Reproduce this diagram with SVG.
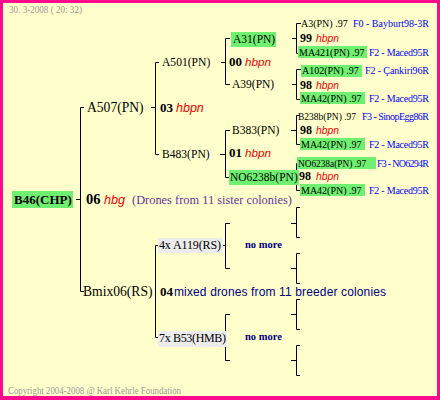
<svg xmlns="http://www.w3.org/2000/svg" width="440" height="400" viewBox="0 0 440 400">
<style>
.bg{fill:#ffffcc}
.frame{fill:#ff0a8c}
.gbox{fill:#70f070}
.xbox{fill:#ececec}
.ln{stroke:#000;stroke-width:1;fill:none}
.s{font-family:"Liberation Serif",serif;fill:#000}
.b{font-family:"Liberation Serif",serif;font-weight:bold;fill:#000}
.r{font-family:"Liberation Sans",sans-serif;font-style:italic;fill:#ee0000}
.bl{font-family:"Liberation Serif",serif;fill:#0000ff;font-size:10px}
.nm{font-family:"Liberation Serif",serif;font-weight:bold;fill:#000088;font-size:10.5px}
.g1{font-size:13.6px}
.g2{font-size:11.6px}
.g3{font-size:11.5px}
.g4{font-size:10px}
.gray{font-family:"Liberation Serif",serif;fill:#999999;font-size:10.5px}
</style>
<rect class="frame" x="0" y="0" width="440" height="400"/>
<rect class="bg" x="3" y="3" width="434" height="393"/>
<text class="gray" x="9" y="13" textLength="73" lengthAdjust="spacingAndGlyphs">30.  3-2008 ( 20: 32)</text>
<text class="gray" x="8" y="394" textLength="173" lengthAdjust="spacingAndGlyphs">Copyright 2004-2008 @ Karl Kehrle Foundation</text>

<g id="connectors">
<path class="ln" d="M76,199.5H80.5M84,107.5H80.5V291.5H84"/>
<path class="ln" d="M151,107.5H155.5M159,62.5H155.5V154.5H159"/>
<path class="ln" d="M159,245.5H155.5V337.5H159"/>
<path class="ln" d="M221,62.5H225.5M230,38.5H225.5V84.5H230"/>
<path class="ln" d="M220,154.5H225.5M230,130.5H225.5V177.5H230"/>
<path class="ln" d="M222,245.5H225.5M230,223.5H225.5V268.5H230"/>
<path class="ln" d="M230,314.5H225.5V360.5H230"/>
<path class="ln" d="M292,38.5H296.5M301,23.5H296.5V53.5H301"/>
<path class="ln" d="M292,84.5H296.5M301,69.5H296.5V99.5H301"/>
<path class="ln" d="M291,130.5H296.5M300,115.5H296.5V144.5H300"/>
<path class="ln" d="M300,163.5H296.5V190.5H300"/>
<path class="ln" d="M291,223.5H296.5M300,207.5H296.5V237.5H300"/>
<path class="ln" d="M291,268.5H296.5M300,253.5H296.5V283.5H300"/>
<path class="ln" d="M291,314.5H296.5M300,299.5H296.5V329.5H300"/>
<path class="ln" d="M291,360.5H296.5M300,345.5H296.5V375.5H300"/>
</g>

<g id="n-B46">
<rect class="gbox" x="12" y="191" width="61" height="17"/>
<text class="b" x="14" y="204" font-size="13">B46(CHP)</text>
<text class="b" x="86" y="204" font-size="14.5">06</text>
<text class="r" x="104" y="204" font-size="12.6">hbg</text>
<text x="132" y="204" font-family="Liberation Serif, serif" font-size="12.4" fill="#663399">(Drones from 11 sister colonies)</text>
</g>

<g id="n-A507">
<text class="s g1" x="87" y="112">A507(PN)</text>
<text class="b" x="160" y="112" font-size="13">03</text>
<text class="r" x="176" y="112" font-size="12.5">hbpn</text>
</g>

<g id="n-Bmix06">
<text class="s g1" x="83" y="296">Bmix06(RS)</text>
<text class="b" x="160" y="296" font-size="13">04</text>
<text x="174" y="296" font-family="Liberation Sans, sans-serif" font-size="12" fill="#000088" textLength="212">mixed drones from 11 breeder colonies</text>
</g>

<g id="n-A501">
<text class="s g2" x="162" y="66">A501(PN)</text>
<text class="b" x="229" y="66" font-size="13">00</text>
<text class="r" x="245" y="66" font-size="11.7">hbpn</text>
</g>

<g id="n-B483">
<text class="s g2" x="162" y="158">B483(PN)</text>
<text class="b" x="229" y="157" font-size="13">01</text>
<text class="r" x="245" y="157" font-size="11.7">hbpn</text>
</g>

<g id="n-A119">
<rect class="xbox" x="158" y="238" width="65" height="15"/>
<text class="s" x="159" y="249" font-size="12" textLength="62">4x A119(RS)</text>
<text class="nm" x="245" y="248">no more</text>
</g>

<g id="n-B53">
<rect class="xbox" x="158" y="331" width="69" height="16"/>
<text class="s" x="159" y="342" font-size="12" textLength="67">7x B53(HMB)</text>
<text class="nm" x="245" y="340">no more</text>
</g>

<g id="n-A31">
<rect class="gbox" x="231" y="32" width="45" height="15"/>
<text class="s g3" x="233" y="43">A31(PN)</text>
<text class="b" x="300" y="42" font-size="12">99</text>
<text class="r" x="316" y="42" font-size="10.3">hbpn</text>
</g>

<g id="n-A39">
<text class="s g3" x="232" y="88">A39(PN)</text>
<text class="b" x="300" y="89" font-size="12">98</text>
<text class="r" x="316" y="89" font-size="10.3">hbpn</text>
</g>

<g id="n-B383">
<text class="s g3" x="232" y="134">B383(PN)</text>
<text class="b" x="300" y="134" font-size="12">98</text>
<text class="r" x="316" y="134" font-size="10.3">hbpn</text>
</g>

<g id="n-NO6238b">
<rect class="gbox" x="229" y="170" width="70" height="15"/>
<text class="s g3" x="230" y="181">NO6238b(PN)</text>
<text class="b" x="299" y="180" font-size="12">98</text>
<text class="r" x="316" y="180" font-size="10.3">hbpn</text>
</g>

<g id="n-A3">
<text class="s g4" x="301" y="27">A3(PN) .97</text>
<text class="bl" x="353" y="27" textLength="76">F0 - Bayburt98-3R</text>
</g>

<g id="n-MA421">
<rect class="gbox" x="298" y="46" width="69" height="12"/>
<text class="s g4" x="299" y="56">MA421(PN) .97</text>
<text class="bl" x="369" y="56" textLength="60">F2 - Maced95R</text>
</g>

<g id="n-A102">
<rect class="gbox" x="301" y="65" width="61" height="12"/>
<text class="s g4" x="302" y="74">A102(PN) .97</text>
<text class="bl" x="365" y="74" textLength="64">F2 - Çankiri96R</text>
</g>

<g id="n-MA42a">
<rect class="gbox" x="300" y="92" width="65" height="12"/>
<text class="s g4" x="301" y="102">MA42(PN) .97</text>
<text class="bl" x="369" y="102" textLength="60">F2 - Maced95R</text>
</g>

<g id="n-B238b">
<text class="s" x="298" y="120" font-size="9.5">B238b(PN) .97</text>
<text class="bl" x="362" y="120" textLength="67">F3 - SinopEgg86R</text>
</g>

<g id="n-MA42b">
<rect class="gbox" x="300" y="138" width="65" height="12"/>
<text class="s g4" x="301" y="148">MA42(PN) .97</text>
<text class="bl" x="369" y="148" textLength="60">F2 - Maced95R</text>
</g>

<g id="n-NO6238a">
<rect class="gbox" x="297" y="157" width="79" height="12"/>
<text class="s" x="298" y="167" font-size="9.3">NO6238a(PN) .97</text>
<text class="bl" x="377" y="167" textLength="52">F3 - NO6294R</text>
</g>

<g id="n-MA42c">
<rect class="gbox" x="300" y="184" width="65" height="12"/>
<text class="s g4" x="301" y="194">MA42(PN) .97</text>
<text class="bl" x="369" y="194" textLength="60">F2 - Maced95R</text>
</g>
</svg>
